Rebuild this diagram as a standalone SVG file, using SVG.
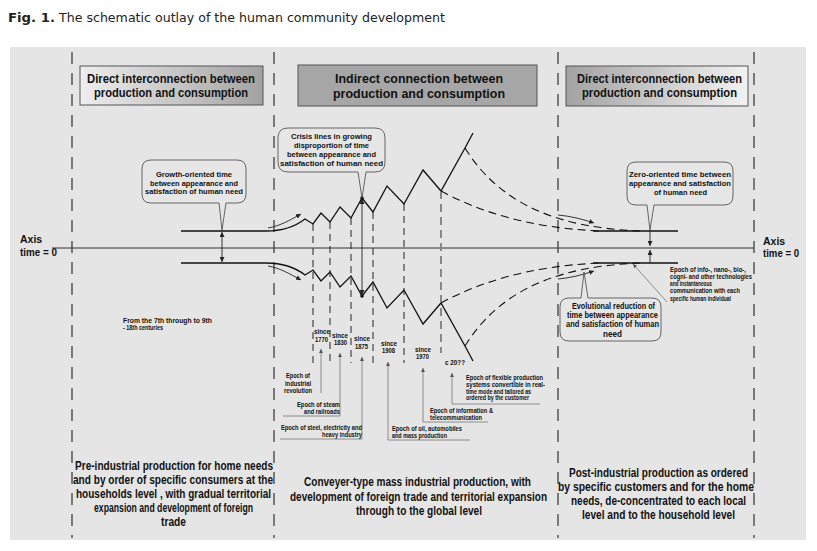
<svg xmlns="http://www.w3.org/2000/svg" width="817" height="551" viewBox="0 0 817 551">
<defs>
<linearGradient id="gL" x1="0" y1="0" x2="1" y2="0"><stop offset="0" stop-color="#eeeeee"/><stop offset="1" stop-color="#a2a2a2"/></linearGradient>
<linearGradient id="gR" x1="0" y1="0" x2="1" y2="0"><stop offset="0" stop-color="#a2a2a2"/><stop offset="1" stop-color="#f2f2f2"/></linearGradient>
<marker id="ah" viewBox="0 0 10 10" refX="10" refY="5" markerWidth="5" markerHeight="5" markerUnits="userSpaceOnUse" orient="auto-start-reverse"><path d="M0,0 L10,5 L0,10 z" fill="#222"/></marker>
<marker id="ahg" viewBox="0 0 10 10" refX="10" refY="5" markerWidth="4" markerHeight="4" markerUnits="userSpaceOnUse" orient="auto-start-reverse"><path d="M0,0 L10,5 L0,10 z" fill="#555"/></marker>
</defs>
<style>
.t{font-family:"Liberation Sans",Arial,sans-serif;font-weight:bold;fill:#111}
.hd{font-size:12px}
.hm{font-size:12.5px}
.cl{font-size:7.5px}
.ev{font-size:8.5px}
.sm{font-size:6.5px}
.bt{font-size:12px}
.ax{font-size:10.5px}
.ln{fill:none;stroke:#111;stroke-width:1.3}
.thin{fill:none;stroke:#222;stroke-width:0.9}
.vd{fill:none;stroke:#222;stroke-width:1.1;stroke-dasharray:12 9}
.sd{fill:none;stroke:#222;stroke-width:1;stroke-dasharray:7 5}
.cd{fill:none;stroke:#111;stroke-width:1.1;stroke-dasharray:8 5}
.pt{fill:none;stroke:#777;stroke-width:0.8}
.bub{fill:#e6e6e6;stroke:#444;stroke-width:0.8}
.hb{stroke:#555;stroke-width:1}
</style>
<rect x="0" y="0" width="817" height="551" fill="#ffffff"/>
<rect x="10" y="47" width="796" height="493" fill="#e5e5e5"/>
<g id="title">
<text x="8" y="22" font-family="DejaVu Sans, Verdana, sans-serif" font-size="11.5" font-weight="bold" fill="#222" textLength="47" lengthAdjust="spacingAndGlyphs">Fig. 1.</text>
<text x="59" y="22" font-family="DejaVu Sans, Verdana, sans-serif" font-size="11.5" fill="#222" textLength="386" lengthAdjust="spacingAndGlyphs">The schematic outlay of the human community development</text>
</g>
<g id="dividers">
<line class="vd" x1="72" y1="52" x2="72" y2="538"/>
<line class="vd" x1="274" y1="52" x2="274" y2="538"/>
<line class="vd" x1="558" y1="52" x2="558" y2="538"/>
<line class="vd" x1="754" y1="52" x2="754" y2="538"/>
</g>
<g id="header-left">
<rect class="hb" x="80" y="66" width="183" height="39" fill="url(#gL)"/>
<text class="t hd" x="87" y="83" textLength="168" lengthAdjust="spacingAndGlyphs">Direct interconnection between</text>
<text class="t hd" x="94" y="97" textLength="154" lengthAdjust="spacingAndGlyphs">production and consumption</text>
</g>
<g id="header-middle">
<rect class="hb" x="298" y="65" width="239" height="41" fill="#a6a6a6"/>
<text class="t hm" x="335" y="83" textLength="168" lengthAdjust="spacingAndGlyphs">Indirect connection between</text>
<text class="t hm" x="333" y="98" textLength="172" lengthAdjust="spacingAndGlyphs">production and consumption</text>
</g>
<g id="header-right">
<rect class="hb" x="566" y="66" width="182" height="40" fill="url(#gR)"/>
<text class="t hd" x="577" y="83" textLength="165" lengthAdjust="spacingAndGlyphs">Direct interconnection between</text>
<text class="t hd" x="582" y="97" textLength="155" lengthAdjust="spacingAndGlyphs">production and consumption</text>
</g>
<g id="axis-labels">
<text class="t ax" x="20" y="243">Axis</text>
<text class="t ax" x="20" y="256" textLength="37" lengthAdjust="spacingAndGlyphs">time = 0</text>
<text class="t ax" x="763" y="245">Axis</text>
<text class="t ax" x="763" y="257" textLength="36" lengthAdjust="spacingAndGlyphs">time = 0</text>
</g>
<g id="connectors">
<line x1="52" y1="248" x2="754" y2="248" stroke="#333" stroke-width="1"/>
<path class="ln" d="M181,231 H266 C284,231 296,226 305,219 L313,224 L321,213 L330,222 L340,207 L351,218 L362,198 L373,212 L387,186 L404,204 L423,170 L441,191 L465,148 L473,133"/>
<path class="ln" d="M181,263 H266 C284,263 296,268 305,275 L313,270 L321,281 L330,272 L340,287 L351,276 L362,296 L373,282 L387,308 L404,290 L423,324 L441,303 L465,346 L473,361"/>
<path class="thin" marker-end="url(#ah)" d="M268,228 C280,226 290,220 301,214"/>
<path class="thin" marker-end="url(#ah)" d="M268,266 C280,268 290,274 301,280"/>
<line class="sd" x1="313" y1="224" x2="313" y2="363"/>
<line class="sd" x1="330" y1="222" x2="330" y2="363"/>
<line class="sd" x1="351" y1="218" x2="351" y2="363"/>
<line class="sd" x1="373" y1="212" x2="373" y2="363"/>
<line class="sd" x1="404" y1="204" x2="404" y2="363"/>
<line x1="441" y1="191" x2="441" y2="353" fill="none" stroke="#888" stroke-width="2" stroke-dasharray="8 5"/>
<line class="thin" x1="362" y1="199" x2="362" y2="295" marker-start="url(#ah)" marker-end="url(#ah)"/>
<circle cx="362" cy="198" r="1.8" fill="#111"/>
<circle cx="362" cy="296" r="1.8" fill="#111"/>
<line class="thin" x1="222" y1="232" x2="222" y2="262" marker-start="url(#ah)" marker-end="url(#ah)"/>
<path class="cd" d="M441,191 C480,212 530,228 600,231"/>
<path class="cd" d="M465,148 C500,205 560,228 640,231"/>
<path class="cd" d="M441,303 C480,282 530,266 600,263"/>
<path class="cd" d="M465,346 C500,289 560,266 640,263"/>
<line class="ln" x1="593" y1="231" x2="678" y2="231"/>
<line class="ln" x1="593" y1="263" x2="678" y2="263"/>
<path class="thin" marker-end="url(#ah)" d="M558,215 C570,216 582,219 594,223"/>
<path class="thin" marker-end="url(#ah)" d="M558,279 C570,278 582,275 594,271"/>
<line class="thin" x1="650" y1="231" x2="650" y2="246" marker-end="url(#ah)"/>
<line class="thin" x1="650" y1="263" x2="650" y2="250" marker-end="url(#ah)"/>
<line class="pt" x1="667" y1="302" x2="633" y2="264" marker-end="url(#ahg)"/>
<path class="pt" marker-start="url(#ahg)" d="M321,349 V393"/>
<path class="pt" marker-start="url(#ahg)" d="M340,353 V416 H283"/>
<path class="pt" marker-start="url(#ahg)" d="M362,357 V439 H280"/>
<path class="pt" marker-start="url(#ahg)" d="M388,362 V440 H470"/>
<path class="pt" marker-start="url(#ahg)" d="M423,368 V422 H488"/>
<path class="pt" marker-start="url(#ahg)" d="M452,373 V404 H540"/>
</g>
<g id="callout-growth">
<path class="bub" d="M151,160 H237 Q246,160 246,169 V194 Q246,203 237,203 H226 L222,230 L219,203 H151 Q142,203 142,194 V169 Q142,160 151,160 Z"/>
<text class="t cl" x="156" y="177" textLength="76" lengthAdjust="spacingAndGlyphs">Growth-oriented time</text>
<text class="t cl" x="150" y="185.5" textLength="88" lengthAdjust="spacingAndGlyphs">between appearance and</text>
<text class="t cl" x="145" y="194" textLength="98" lengthAdjust="spacingAndGlyphs">satisfaction of human need</text>
</g>
<g id="callout-crisis">
<path class="bub" d="M288,128 H375 Q385,128 385,138 V162 Q385,172 375,172 H366 L362,198 L358,172 H288 Q278,172 278,162 V138 Q278,128 288,128 Z"/>
<text class="t cl" x="291" y="139" textLength="81" lengthAdjust="spacingAndGlyphs">Crisis lines in growing</text>
<text class="t cl" x="294" y="148" textLength="75" lengthAdjust="spacingAndGlyphs">disproportion of time</text>
<text class="t cl" x="287" y="157" textLength="89" lengthAdjust="spacingAndGlyphs">between appearance and</text>
<text class="t cl" x="280" y="166" textLength="103" lengthAdjust="spacingAndGlyphs">satisfaction of human need</text>
</g>
<g id="callout-zero">
<path class="bub" d="M636,162 H724 Q733,162 733,171 V196 Q733,205 724,205 H654 L650,230 L647,205 H636 Q627,205 627,196 V171 Q627,162 636,162 Z"/>
<text class="t cl" x="629" y="177" textLength="102" lengthAdjust="spacingAndGlyphs">Zero-oriented time between</text>
<text class="t cl" x="629" y="186" textLength="102" lengthAdjust="spacingAndGlyphs">appearance and satisfaction</text>
<text class="t cl" x="654" y="195" textLength="53" lengthAdjust="spacingAndGlyphs">of human need</text>
</g>
<g id="callout-evolutional">
<path class="bub" d="M569,298 H581 L584,272 L588,298 H652 Q661,298 661,307 V332 Q661,341 652,341 H569 Q560,341 560,332 V307 Q560,298 569,298 Z"/>
<text class="t ev" x="572" y="309" textLength="83" lengthAdjust="spacingAndGlyphs">Evolutional reduction of</text>
<text class="t ev" x="567" y="318" textLength="91" lengthAdjust="spacingAndGlyphs">time between appearance</text>
<text class="t ev" x="566" y="327" textLength="93" lengthAdjust="spacingAndGlyphs">and satisfaction of human</text>
<text class="t ev" x="603" y="337" textLength="19" lengthAdjust="spacingAndGlyphs">need</text>
</g>
<g id="note-info">
<text class="t sm" x="670" y="272" textLength="76" lengthAdjust="spacingAndGlyphs">Epoch of info-, nano-, bio-,</text>
<text class="t sm" x="670" y="279" textLength="82" lengthAdjust="spacingAndGlyphs">cogni- and other technologies</text>
<text class="t sm" x="670" y="286" textLength="42" lengthAdjust="spacingAndGlyphs">and instantaneous</text>
<text class="t sm" x="670" y="293" textLength="70" lengthAdjust="spacingAndGlyphs">communication with each</text>
<text class="t sm" x="670" y="301" textLength="61" lengthAdjust="spacingAndGlyphs">specific human individual</text>
</g>
<g id="note-centuries">
<text class="t sm" x="123" y="323" textLength="89" lengthAdjust="spacingAndGlyphs">From the 7th through to 9th</text>
<text class="t sm" x="123" y="330" textLength="40" lengthAdjust="spacingAndGlyphs">- 18th centuries</text>
</g>
<g id="dates">
<text class="t sm" x="314" y="334" textLength="16" lengthAdjust="spacingAndGlyphs">since</text>
<text class="t sm" x="315" y="342" textLength="13" lengthAdjust="spacingAndGlyphs">1770</text>
<text class="t sm" x="332" y="338" textLength="16" lengthAdjust="spacingAndGlyphs">since</text>
<text class="t sm" x="334" y="345" textLength="13" lengthAdjust="spacingAndGlyphs">1830</text>
<text class="t sm" x="354" y="341" textLength="16" lengthAdjust="spacingAndGlyphs">since</text>
<text class="t sm" x="355" y="349" textLength="13" lengthAdjust="spacingAndGlyphs">1875</text>
<text class="t sm" x="381" y="346" textLength="16" lengthAdjust="spacingAndGlyphs">since</text>
<text class="t sm" x="382" y="353" textLength="13" lengthAdjust="spacingAndGlyphs">1908</text>
<text class="t sm" x="415" y="352" textLength="16" lengthAdjust="spacingAndGlyphs">since</text>
<text class="t sm" x="416" y="359" textLength="13" lengthAdjust="spacingAndGlyphs">1970</text>
<text class="t sm" x="445" y="365" textLength="20" lengthAdjust="spacingAndGlyphs">c 20??</text>
</g>
<g id="epochs">
<text class="t sm" x="286" y="378" textLength="24" lengthAdjust="spacingAndGlyphs">Epoch of</text>
<text class="t sm" x="285" y="386" textLength="26" lengthAdjust="spacingAndGlyphs">industrial</text>
<text class="t sm" x="284" y="393" textLength="28" lengthAdjust="spacingAndGlyphs">revolution</text>
<text class="t sm" x="297" y="407" textLength="43" lengthAdjust="spacingAndGlyphs">Epoch of steam</text>
<text class="t sm" x="304" y="414" textLength="36" lengthAdjust="spacingAndGlyphs">and railroads</text>
<text class="t sm" x="281" y="430" textLength="81" lengthAdjust="spacingAndGlyphs">Epoch of steel, electricity and</text>
<text class="t sm" x="322" y="437" textLength="40" lengthAdjust="spacingAndGlyphs">heavy industry</text>
<text class="t sm" x="392" y="431" textLength="70" lengthAdjust="spacingAndGlyphs">Epoch of oil, automobiles</text>
<text class="t sm" x="392" y="438" textLength="55" lengthAdjust="spacingAndGlyphs">and mass production</text>
<text class="t sm" x="430" y="413" textLength="63" lengthAdjust="spacingAndGlyphs">Epoch of information &amp;</text>
<text class="t sm" x="430" y="420" textLength="52" lengthAdjust="spacingAndGlyphs">telecommunication</text>
<text class="t sm" x="466" y="380" textLength="77" lengthAdjust="spacingAndGlyphs">Epoch of flexible production</text>
<text class="t sm" x="466" y="387" textLength="79" lengthAdjust="spacingAndGlyphs">systems convertible in real-</text>
<text class="t sm" x="466" y="393.5" textLength="65" lengthAdjust="spacingAndGlyphs">time mode and tailored as</text>
<text class="t sm" x="466" y="400" textLength="63" lengthAdjust="spacingAndGlyphs">ordered by the customer</text>
</g>
<g id="bottom-left">
<text class="t bt" x="75" y="470" textLength="198" lengthAdjust="spacingAndGlyphs">Pre-industrial production for home needs</text>
<text class="t bt" x="73" y="484" textLength="200" lengthAdjust="spacingAndGlyphs">and by order of specific consumers at the</text>
<text class="t bt" x="76" y="498" textLength="195" lengthAdjust="spacingAndGlyphs">households level , with gradual territorial</text>
<text class="t bt" x="94" y="512" textLength="159" lengthAdjust="spacingAndGlyphs">expansion and development of foreign</text>
<text class="t bt" x="161" y="526" textLength="25" lengthAdjust="spacingAndGlyphs">trade</text>
</g>
<g id="bottom-middle">
<text class="t bt" x="304" y="486" textLength="227" lengthAdjust="spacingAndGlyphs">Conveyer-type mass industrial production, with</text>
<text class="t bt" x="290" y="501" textLength="257" lengthAdjust="spacingAndGlyphs">development of foreign trade and territorial expansion</text>
<text class="t bt" x="356" y="515" textLength="126" lengthAdjust="spacingAndGlyphs">through to the global level</text>
</g>
<g id="bottom-right">
<text class="t bt" x="569" y="477" textLength="179" lengthAdjust="spacingAndGlyphs">Post-industrial production as ordered</text>
<text class="t bt" x="558" y="491" textLength="196" lengthAdjust="spacingAndGlyphs">by specific customers and for the home</text>
<text class="t bt" x="571" y="505" textLength="175" lengthAdjust="spacingAndGlyphs">needs, de-concentrated to each local</text>
<text class="t bt" x="582" y="519" textLength="153" lengthAdjust="spacingAndGlyphs">level and to the household level</text>
</g>
</svg>
